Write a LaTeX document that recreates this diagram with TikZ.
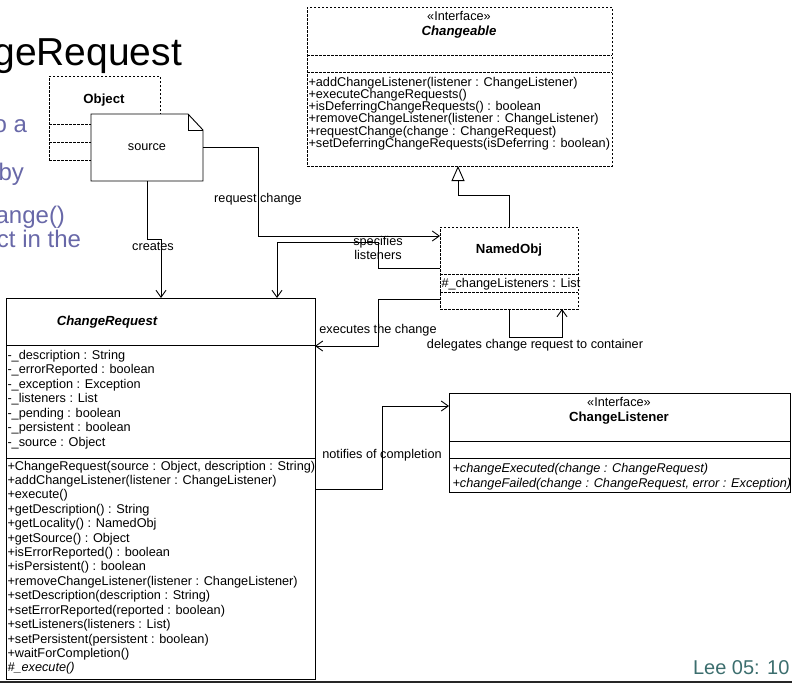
\documentclass[tikz,border=0pt]{standalone}
\usepackage{fontspec}
\setmainfont{Liberation Sans}
\usetikzlibrary{arrows.meta}
\definecolor{bullettext}{RGB}{104,104,168}
\definecolor{footertext}{RGB}{60,110,110}
\begin{document}
\begin{tikzpicture}[x=1pt, y=-1pt,
  every node/.style={inner sep=0pt, outer sep=0pt},
  txt/.style={font=\fontsize{12.7}{15}\selectfont},
  itxt/.style={font=\fontsize{12.7}{15}\selectfont\itshape},
  lbl/.style={font=\fontsize{12.7}{14}\selectfont, align=center, text height=9.2pt, text depth=2.6pt},
  bname/.style={font=\fontsize{13.2}{15}\selectfont\bfseries, text height=9.5pt, text depth=2.7pt},
  biname/.style={font=\fontsize{13.2}{15}\selectfont\bfseries\itshape, text height=9.5pt, text depth=2.7pt},
  solidbox/.style={draw, line width=0.9pt, anchor=north west},
  dashbox/.style={draw, line width=0.9pt, dash pattern=on 2.5pt off 1.5pt, anchor=north west},
  dashsep/.style={line width=0.9pt, dash pattern=on 2.5pt off 1.5pt},
  solidsep/.style={line width=0.9pt},
  link/.style={line width=0.9pt, -{Straight Barb[length=7pt, width=10pt]}},
  realize/.style={line width=0.9pt, -{Triangle[open, length=15pt, width=13pt]}},
]
\useasboundingbox (0,0) rectangle (792,683);
\clip (0,0) rectangle (792,683);

% slide title and bullet text running in from the left
\node[anchor=base east, font=\fontsize{39}{42}\selectfont] (title) at (182,65) {geRequest};
\node[anchor=base east, font=\fontsize{24}{26}\selectfont, text=bullettext] (frag1) at (27,132) {o a};
\node[anchor=base east, font=\fontsize{24}{26}\selectfont, text=bullettext] (frag2) at (24,180) {by};
\node[anchor=base east, font=\fontsize{24}{26}\selectfont, text=bullettext] (frag3) at (65,223) {ange()};
\node[anchor=base east, font=\fontsize{24}{26}\selectfont, text=bullettext] (frag4) at (81,247) {ct in the};

% Object class (dashed)
\node[dashbox, minimum width=111, minimum height=84] (object) at (49,76) {};
\draw[dashsep] (object.west |- 0,124) -- (object.east |- 0,124);
\draw[dashsep] (object.west |- 0,142) -- (object.east |- 0,142);
\node[bname] (objectname) at (104,100) {Object};

% note "source"
\node[minimum width=112, minimum height=67, anchor=north west] (note) at (91,114) {};
\filldraw[fill=white, line width=0.9pt] (note.north west) -- ([xshift=-15pt]note.north east)
  -- ([yshift=-16pt]note.north east) -- (note.south east) -- (note.south west) -- cycle;
\draw[line width=0.9pt] ([xshift=-15pt]note.north east) |- ([yshift=-16pt]note.north east);
\node[lbl] (notetext) at (note.center) {source};

% Changeable interface (dashed)
\node[dashbox, minimum width=305, minimum height=159] (chg) at (307,7) {};
\draw[dashsep] (chg.west |- 0,55) -- (chg.east |- 0,55);
\draw[dashsep] (chg.west |- 0,72) -- (chg.east |- 0,72);
\node[lbl] (chgstereo) at (459,17) {«Interface»};
\node[biname] (chgname) at (459,32) {Changeable};
\foreach \t [count=\i from 0] in {
  {+addChangeListener(listener : ChangeListener)},
  {+executeChangeRequests()},
  {+isDeferringChangeRequests() : boolean},
  {+removeChangeListener(listener : ChangeListener)},
  {+requestChange(change : ChangeRequest)},
  {+setDeferringChangeRequests(isDeferring : boolean)}}
  \node[txt, anchor=base west] (chgm\i) at (308.5,{86+12.25*\i}) {\t};

% NamedObj class (dashed)
\node[dashbox, minimum width=138, minimum height=82] (namedobj) at (440,227) {};
\draw[dashsep] (namedobj.west |- 0,274) -- (namedobj.east |- 0,274);
\draw[dashsep] (namedobj.west |- 0,292) -- (namedobj.east |- 0,292);
\node[bname] (namedobjname) at (509,250) {NamedObj};
\node[txt, anchor=base west] (namedobjattr) at (441.5,287) {\#\_changeListeners : List};

% ChangeRequest class
\node[solidbox, minimum width=309, minimum height=381] (creq) at (6,298) {};
\draw[solidsep] (creq.west |- 0,345) -- (creq.east |- 0,345);
\draw[solidsep] (creq.west |- 0,458) -- (creq.east |- 0,458);
\node[biname] (creqname) at (107,322) {ChangeRequest};
\foreach \t [count=\i from 0] in {
  {-\_description : String},
  {-\_errorReported : boolean},
  {-\_exception : Exception},
  {-\_listeners : List},
  {-\_pending : boolean},
  {-\_persistent : boolean},
  {-\_source : Object}}
  \node[txt, anchor=base west] (creqa\i) at (7.5,{359+14.5*\i}) {\t};
\foreach \t [count=\i from 0] in {
  {+ChangeRequest(source : Object, description : String)},
  {+addChangeListener(listener : ChangeListener)},
  {+execute()},
  {+getDescription() : String},
  {+getLocality() : NamedObj},
  {+getSource() : Object},
  {+isErrorReported() : boolean},
  {+isPersistent() : boolean},
  {+removeChangeListener(listener : ChangeListener)},
  {+setDescription(description : String)},
  {+setErrorReported(reported : boolean)},
  {+setListeners(listeners : List)},
  {+setPersistent(persistent : boolean)},
  {+waitForCompletion()}}
  \node[txt, anchor=base west] (creqm\i) at (7.5,{470+14.42*\i}) {\t};
\node[itxt, anchor=base west] (creqm14) at (7.5,{470+14.42*14}) {\#\_execute()};

% ChangeListener interface
\node[solidbox, minimum width=341, minimum height=99] (clis) at (449,393) {};
\draw[solidsep] (clis.west |- 0,441) -- (clis.east |- 0,441);
\draw[solidsep] (clis.west |- 0,458) -- (clis.east |- 0,458);
\node[lbl] (clisstereo) at (619,403) {«Interface»};
\node[bname] (clisname) at (619,418) {ChangeListener};
\node[itxt, anchor=base west] (clism0) at (452.5,472) {+changeExecuted(change : ChangeRequest)};
\node[itxt, anchor=base west] (clism1) at (452.5,487) {+changeFailed(change : ChangeRequest, error : Exception)};

% connectors
\draw[realize] (namedobj.north) |- (458,195) -- (458,0 |- chg.south);
\draw[link] (note.south) |- (161,239) -- (161,0 |- creq.north);
\node[lbl] (lcreates) at (153,247) {creates};
\draw[link] (note.east) -| (258,236) -- (namedobj.west |- 0,236);
\node[lbl] (lrequest) at (258,199) {request change};
\draw[link] (namedobj.west |- 0,268) -| (378,242) -| (277,0 |- creq.north);
\node[lbl] (lspecifies) at (378,256) {specifies\\listeners};
\draw[link] (namedobj.west |- 0,299) -| (378,346) -- (creq.east |- 0,346);
\node[lbl] (lexecutes) at (378,330) {executes the change};
\draw[link] (namedobj.south) |- (562,337) -- (562,0 |- namedobj.south);
\node[lbl] (ldelegates) at (535,345) {delegates change request to container};
\draw[link] (creq.east |- 0,489) -| (382,406) -- (clis.west |- 0,406);
\node[lbl] (lnotifies) at (382,455) {notifies of completion};

% slide footer
\node[anchor=base west, font=\fontsize{20}{22}\selectfont, text=footertext] (footer) at (693,674) {Lee 05: 10};
\draw[line width=2pt, black!85] (0,682) -- (792,682);
\end{tikzpicture}
\end{document}
